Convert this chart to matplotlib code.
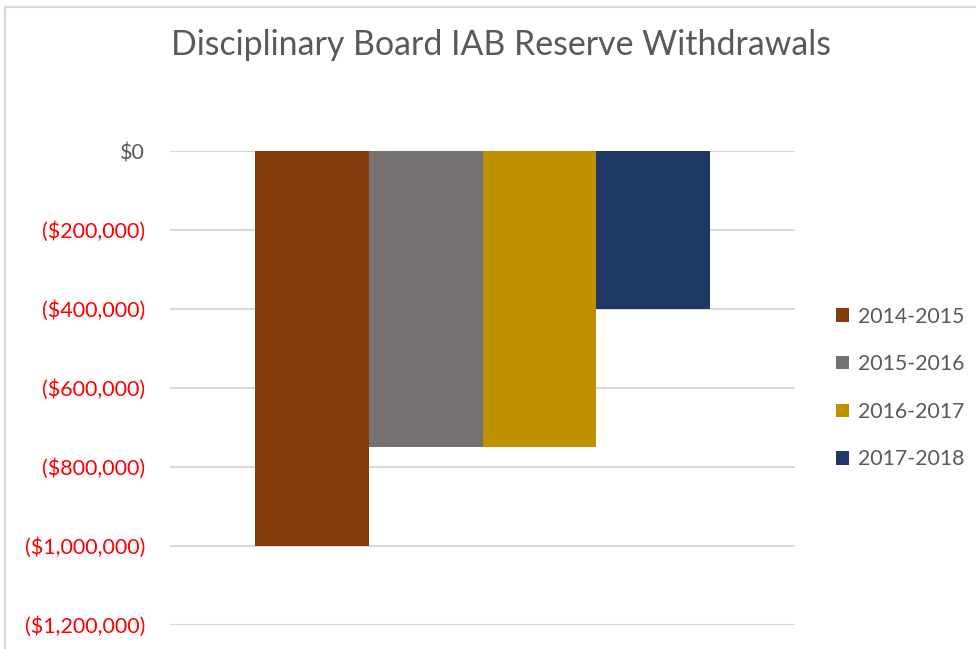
import matplotlib.pyplot as plt
from matplotlib.patches import Rectangle
from matplotlib.ticker import FuncFormatter

seasons = ["2014-2015", "2015-2016", "2016-2017", "2017-2018"]
withdrawals = [-1000000, -750000, -750000, -400000]
colors = ["#843C0C", "#767171", "#BF9000", "#203864"]
yticks = [0, -200000, -400000, -600000, -800000, -1000000, -1200000]

plt.rcParams["font.family"] = ["Lato", "DejaVu Sans"]

fig = plt.figure(figsize=(9.76, 6.49), dpi=100)
# light frame like the exported chart area
fig.patches.append(Rectangle((5 / 976, -0.1), 1.2, (649 - 7) / 649 + 0.1,
                             transform=fig.transFigure, fill=False,
                             edgecolor="#D9D9D9", linewidth=1.5))

ax = fig.add_axes([170 / 976, 24 / 649, 625 / 976, 474 / 649])

w = 0.182
for i, (s, v, c) in enumerate(zip(seasons, withdrawals, colors)):
    ax.bar((i - 1.5) * w, v, w, color=c, label=s, zorder=3)

ax.set_xlim(-0.5, 0.5)
ax.set_ylim(-1200000, 0)
ax.set_yticks(yticks)
ax.yaxis.set_major_formatter(FuncFormatter(
    lambda v, p: "$0" if v == 0 else "(${:,.0f})".format(abs(v))))
for lab, v in zip(ax.get_yticklabels(), yticks):
    lab.set_color("#595959" if v == 0 else "#FF0000")
ax.tick_params(axis="y", length=0, pad=18, labelsize=15.5)
ax.set_xticks([])
ax.grid(axis="y", color="#D9D9D9", linewidth=1.5, zorder=0)
for sp in ax.spines.values():
    sp.set_visible(False)

fig.text(501 / 976, 1 - 45 / 649, "Disciplinary Board IAB Reserve Withdrawals",
         ha="center", va="center", fontsize=24.4, color="#595959")

leg = fig.legend(loc="center left", bbox_to_anchor=(817 / 976, 1 - 388 / 649),
                 frameon=False, fontsize=15.3, handlelength=0.6, handleheight=0.6,
                 handletextpad=0.45, labelspacing=1.3, labelcolor="#595959")

fig.savefig("out.png", dpi=100)
